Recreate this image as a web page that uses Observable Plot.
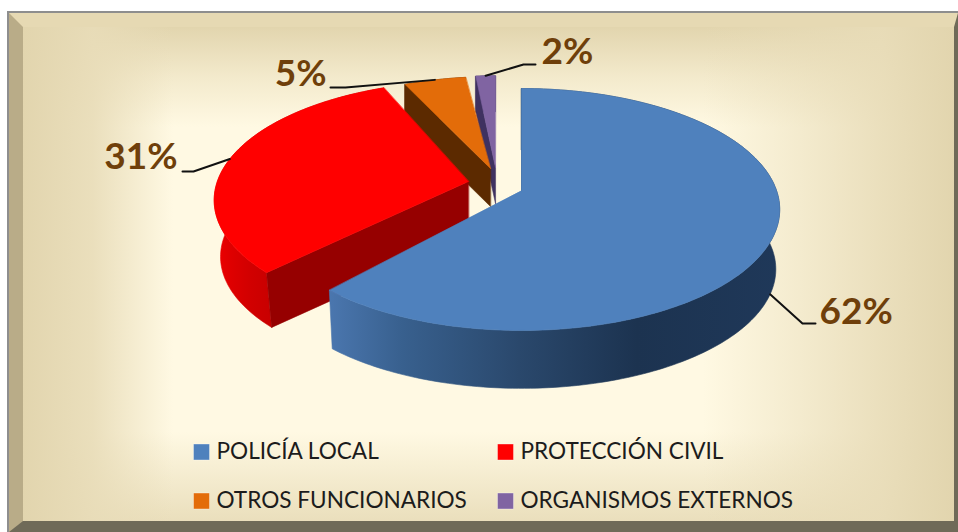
<!DOCTYPE html>
<html>
<head>
<meta charset="utf-8">
<script src="https://cdn.jsdelivr.net/npm/d3@7"></script>
<script src="https://cdn.jsdelivr.net/npm/@observablehq/plot@0.6"></script>
<style>
html,body{margin:0;padding:0;background:#fff;width:958px;height:532px;overflow:hidden}
#wrap{position:relative;width:958px;height:532px;overflow:hidden}
#frame{position:absolute;left:7px;top:11px;width:951px;height:521px;box-sizing:border-box;border-top:2px solid #8e8e8e;border-left:2px solid #8e8e8e}
#bevel{position:absolute;left:0;top:0;width:949px;height:519px;box-sizing:border-box;
  border-style:solid;border-width:14px 4px 11px 14px;border-color:#e6d9b3 #6f6a58 #6f6a58 #b9ac88;}
#inner{width:100%;height:100%;background-color:#fff9e3;
  background-image:
   linear-gradient(to right,#e2d5ae 0,rgba(232,220,184,.9) 70px,rgba(255,249,227,0) 150px,rgba(255,249,227,0) 680px,rgba(232,220,184,.9) 860px,#e2d5ae 931px),
   linear-gradient(to bottom,#e2d5ae 0,rgba(240,230,198,.8) 50px,rgba(255,249,227,0) 100px,rgba(255,249,227,0) 405px,rgba(232,220,184,.9) 494px);}
#plot{position:absolute;left:0;top:0}
svg{background:transparent!important;display:block}
</style>
</head>
<body>
<div id="wrap">
  <div id="frame"><div id="bevel"><div id="inner"></div></div></div>
  <div id="plot"></div>
</div>
<script>
// ---- data ----
const categories = ["POLICÍA LOCAL", "PROTECCIÓN CIVIL", "OTROS FUNCIONARIOS", "ORGANISMOS EXTERNOS"];
const values = [62, 31, 5, 2];
const topColors = ["#4f81bd", "#ff0000", "#e36c09", "#8064a2"];
const cutColors = ["#1f3a5c", "#960000", "#5c2a00", "#3f3160"];

// ---- layout of the tilted pie ----
const R = 255, TILT = 118, PERSP = 0.157, DEG = Math.PI / 180;
const slices = [
  {ax: 521, ay: 190, scale: 1, depth: 60, lower: 0.985, da0: 0, da1: -1.5, elbow: [802, 323], end: [815, 323], side: "url(#blueSide)", leaderOnSide: true},
  {ax: 468, ay: 181, scale: 0.985, depth: 57, lower: 0.975, da0: 2.5, da1: 2.5, elbow: [193, 171], end: [182, 171], side: "url(#redSide)"},
  {ax: 490, ay: 168, scale: 0.9, depth: 38, lower: 1, da0: 0, da1: 0, elbow: [345, 87], end: [330, 87], side: cutColors[2]},
  {ax: 495, ay: 167, scale: 0.9, depth: 36, lower: 1, da0: 1.5, da1: 0, elbow: [523, 64], end: [535, 64], side: cutColors[3]}
];
const labelPos = [[819, 312, "start"], [177, 157, "end"], [326, 74, "end"], [541, 52, "start"]];
const legendPos = [[201, 451.5], [505, 451.5], [201, 500.5], [505, 500.5]];

const total = d3.sum(values);
const cum = d3.cumsum(values);
const angle = v => v / total * 2 * Math.PI;

function project(s, a, lowerDisc) {
  const sn = Math.sin(a), c = Math.cos(a) * -1, d = 1 - PERSP * c;
  const k = s.scale * (lowerDisc ? s.lower : 1);
  return {x: s.ax + R * sn / d * k, y: s.ay + (lowerDisc ? s.depth : 0) + TILT * c / d * k};
}
function arc(s, a0, a1, lowerDisc) {
  const n = Math.max(2, Math.ceil(Math.abs(a1 - a0) / 0.02));
  return d3.range(n + 1).map(i => project(s, a0 + (a1 - a0) * i / n, lowerDisc));
}
const apex = (s, lowerDisc) => ({x: s.ax, y: s.ay + (lowerDisc ? s.depth : 0)});

const faces = slices.map((s, i) => {
  const a0 = angle(i ? cum[i - 1] : 0) + s.da0 * DEG, a1 = angle(cum[i]) + s.da1 * DEG, mid = (a0 + a1) / 2;
  const m = project(s, mid, !!s.leaderOnSide);
  return {
    top: [apex(s), ...arc(s, a0, a1)],
    rim: [...arc(s, a0, a1), ...arc(s, a0, a1, true).reverse()],
    cut: [apex(s), project(s, a0), project(s, a0, true), apex(s, true)],
    leader: [m, {x: s.elbow[0], y: s.elbow[1]}, {x: s.end[0], y: s.end[1]}]
  };
});

const poly = (pts, fill) => Plot.line(pts, {x: "x", y: "y", fill, stroke: fill, strokeWidth: 0.6, curve: "linear-closed"});

const defs = () => {
  const d = d3.create("svg:defs");
  const grad = (id, x1, x2, stops) => {
    const g = d.append("linearGradient").attr("id", id).attr("gradientUnits", "userSpaceOnUse")
      .attr("x1", x1).attr("x2", x2).attr("y1", 0).attr("y2", 0);
    stops.forEach(([o, c]) => g.append("stop").attr("offset", o).attr("stop-color", c));
  };
  grad("blueSide", 330, 780, [[0, "#4a76ae"], [0.16, "#38608e"], [0.42, "#2a486c"], [0.68, "#1c3350"], [1, "#1f3859"]]);
  grad("redSide", 214, 272, [[0, "#f00000"], [0.25, "#e00000"], [0.6, "#d20000"], [1, "#c80000"]]);
  return d.node();
};

// draw back to front: small slices, red, then blue
const order = [3, 2, 1, 0];
const sliceMarks = order.flatMap(i => [
  poly(faces[i].rim, slices[i].side),
  poly(faces[i].cut, cutColors[i]),
  poly(faces[i].top, topColors[i])
]);

const legendRows = categories.map((name, i) => ({name, color: topColors[i], x: legendPos[i][0], y: legendPos[i][1]}));
const labelRows = values.map((v, i) => ({t: v + "%", x: labelPos[i][0], y: labelPos[i][1], anchor: labelPos[i][2]}));

const chart = Plot.plot({
  width: 958, height: 532, margin: 0,
  x: {domain: [0, 958], range: [0, 958], axis: null},
  y: {domain: [0, 532], range: [0, 532], axis: null},
  style: {background: "transparent", overflow: "visible"},
  marks: [
    defs,
    ...sliceMarks,
    ...faces.map(f => Plot.line(f.leader, {x: "x", y: "y", stroke: "#111", strokeWidth: 2, curve: "linear"})),
    ...labelRows.map(r => Plot.text([r], {x: "x", y: "y", text: "t", textAnchor: r.anchor, fill: "#6f3f0a", fontSize: 37, fontWeight: 700, fontFamily: "Lato"})),
    Plot.dot(legendRows, {x: "x", y: "y", symbol: "square", r: 9, fill: "color", stroke: "#fff", strokeOpacity: 0.35, strokeWidth: 1}),
    Plot.text(legendRows, {x: d => d.x + 15, y: "y", text: "name", textAnchor: "start", fill: "#1c1c1c", fontSize: 22.6, fontFamily: "Lato"})
  ]
});
document.getElementById("plot").append(chart);
</script>
</body>
</html>
